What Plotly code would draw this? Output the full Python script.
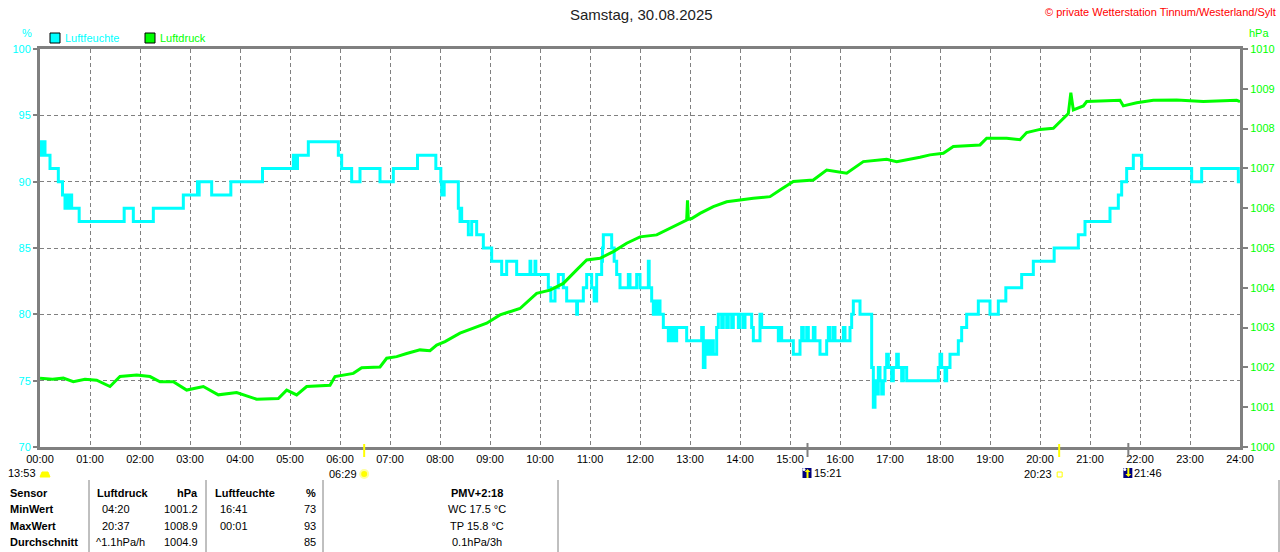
import plotly.graph_objects as go

# Luftfeuchte (%), Stufenwerte: Zeitpunkt der Änderung -> neuer Wert
feuchte_zeit = [
    "00:00", "00:01", "00:03", "00:04", "00:06", "00:12", "00:22", "00:27", "00:30", "00:32",
    "00:34", "00:36", "00:38", "00:47", "01:41", "01:52", "02:16", "02:52", "03:09", "03:10",
    "03:11", "03:26", "03:49", "04:27", "05:04", "05:05", "05:06", "05:07", "05:09", "05:22",
    "05:58", "06:02", "06:14", "06:24", "06:48", "07:04", "07:33", "07:55", "08:01", "08:02",
    "08:03", "08:04", "08:05", "08:22", "08:24", "08:25", "08:26", "08:34", "08:38", "08:44",
    "08:52", "09:02", "09:14", "09:20", "09:32", "09:48", "09:49", "09:54", "09:55", "10:10",
    "10:13", "10:18", "10:22", "10:28", "10:32", "10:44", "10:45", "10:52", "10:56", "11:02",
    "11:05", "11:08", "11:14", "11:15", "11:16", "11:26", "11:29", "11:32", "11:36", "11:46",
    "11:48", "11:56", "12:00", "12:10", "12:11", "12:14", "12:16", "12:18", "12:20", "12:22",
    "12:24", "12:28", "12:34", "12:36", "12:38", "12:40", "12:42", "12:44", "12:48", "12:56",
    "13:14", "13:16", "13:18", "13:20", "13:22", "13:24", "13:26", "13:28", "13:32", "13:34",
    "13:38", "13:40", "13:44", "13:46", "13:50", "13:52", "13:58", "14:00", "14:04", "14:06",
    "14:14", "14:16", "14:24", "14:26", "14:46", "14:48", "14:50", "15:04", "15:12", "15:14",
    "15:16", "15:20", "15:22", "15:28", "15:30", "15:36", "15:44", "15:46", "15:48", "15:52",
    "15:54", "16:04", "16:06", "16:12", "16:14", "16:16", "16:24", "16:38", "16:40", "16:42",
    "16:44", "16:46", "16:48", "16:50", "16:52", "16:54", "16:56", "16:58", "17:02", "17:04",
    "17:08", "17:10", "17:14", "17:16", "17:20", "17:24", "17:58", "18:00", "18:02", "18:06",
    "18:08", "18:12", "18:22", "18:26", "18:32", "18:46", "19:00", "19:10", "19:19", "19:38",
    "19:52", "20:17", "20:46", "20:54", "21:24", "21:34", "21:38", "21:44", "21:52", "22:02",
    "23:02", "23:14", "23:58", "24:00",
]
feuchte_wert = [
    92, 93, 92, 93, 92, 91, 90, 89, 88, 89,
    88, 89, 88, 87, 88, 87, 88, 89, 90, 89,
    90, 89, 90, 91, 92, 91, 92, 91, 92, 93,
    92, 91, 90, 91, 90, 91, 92, 91, 90, 89,
    90, 89, 90, 88, 87, 88, 87, 86, 87, 86,
    85, 84, 83, 84, 83, 84, 83, 84, 83, 82,
    81, 82, 83, 82, 81, 80, 81, 82, 83, 82,
    81, 83, 84, 85, 86, 85, 84, 83, 82, 83,
    82, 83, 82, 84, 82, 81, 80, 81, 80, 81,
    80, 79, 78, 79, 78, 79, 78, 79, 79, 78,
    79, 76, 78, 77, 78, 77, 78, 77, 79, 80,
    79, 80, 79, 80, 79, 80, 79, 80, 79, 80,
    79, 78, 80, 79, 78, 79, 78, 77, 78, 79,
    78, 79, 78, 79, 78, 77, 78, 79, 78, 79,
    78, 79, 78, 79, 80, 81, 80, 76, 73, 75,
    74, 76, 75, 74, 75, 76, 77, 76, 75, 76,
    77, 76, 75, 76, 75, 75, 76, 77, 76, 75,
    76, 77, 78, 79, 80, 81, 80, 81, 82, 83,
    84, 85, 86, 87, 88, 89, 90, 91, 92, 91,
    90, 91, 90, 90,
]

# Luftdruck (hPa)
druck_zeit = [
    "00:00", "00:15", "00:28", "00:40", "00:54", "01:08", "01:24", "01:36", "01:56", "02:12",
    "02:24", "02:40", "02:56", "03:16", "03:34", "03:56", "04:20", "04:46", "04:56", "05:08",
    "05:20", "05:48", "05:54", "06:16", "06:26", "06:48", "06:56", "07:08", "07:20", "07:36",
    "07:48", "07:56", "08:06", "08:24", "08:56", "09:12", "09:36", "09:56", "10:12", "10:28",
    "10:44", "10:56", "11:12", "11:28", "11:44", "12:00", "12:20", "12:40", "12:56", "12:57",
    "12:58", "13:02", "13:12", "13:28", "13:44", "14:16", "14:36", "14:48", "15:04", "15:28",
    "15:36", "15:44", "16:08", "16:28", "16:56", "17:08", "17:36", "17:48", "18:04", "18:16",
    "18:48", "18:56", "19:20", "19:36", "19:44", "20:00", "20:16", "20:28", "20:34", "20:37",
    "20:40", "20:52", "20:56", "21:36", "21:40", "21:56", "22:16", "22:44", "23:16", "23:56",
    "24:00",
]
druck_wert = [
    1001.73, 1001.70, 1001.73, 1001.64, 1001.70, 1001.68, 1001.52, 1001.77, 1001.81, 1001.77,
    1001.64, 1001.64, 1001.43, 1001.52, 1001.31, 1001.37, 1001.20, 1001.22, 1001.43, 1001.31,
    1001.52, 1001.55, 1001.77, 1001.85, 1001.99, 1002.01, 1002.23, 1002.27, 1002.35, 1002.44,
    1002.42, 1002.56, 1002.65, 1002.86, 1003.11, 1003.32, 1003.48, 1003.86, 1003.94, 1004.11,
    1004.45, 1004.70, 1004.74, 1004.91, 1005.12, 1005.28, 1005.33, 1005.54, 1005.70, 1006.20,
    1005.72, 1005.74, 1005.87, 1006.04, 1006.16, 1006.25, 1006.29, 1006.46, 1006.67, 1006.71,
    1006.83, 1006.96, 1006.88, 1007.17, 1007.23, 1007.17, 1007.28, 1007.34, 1007.38, 1007.55,
    1007.59, 1007.76, 1007.76, 1007.72, 1007.90, 1007.98, 1008.01, 1008.25, 1008.38, 1008.90,
    1008.47, 1008.57, 1008.68, 1008.71, 1008.57, 1008.65, 1008.71, 1008.72, 1008.68, 1008.71,
    1008.68,
]

stunden = list(range(25))
stunden_text = ["%02d:00" % h for h in stunden]

sonne = [("06:29", "auf"), ("20:23", "unter")]
mond = [("15:21", "auf"), ("21:46", "unter")]
tageslaenge = "13:53"

tab_zeilen = ["MinWert", "MaxWert", "Durchschnitt"]
druck_zeitpunkt = ["04:20", "20:37", "^1.1hPa/h"]
druck_stat = ["1001.2", "1008.9", "1004.9"]
feuchte_zeitpunkt = ["16:41", "00:01", ""]
feuchte_stat = ["73", "93", "85"]
pmv_kopf = "PMV+2:18"
pmv_text = ["WC 17.5 °C", "TP 15.8 °C", "0.1hPa/3h"]

CYAN = "#00FFFF"
GRUEN = "#00FF00"
GRAU = "#808080"
FONT = "Liberation Sans"

W, H = 1280, 552
L, R, T, B = 40, 40, 49, 105


def std(t):
    h, m = t.split(":")
    return int(h) + int(m) / 60


# Pixel im Bild -> paper-Koordinaten
def px(x):
    return (x - L) / (W - L - R)


def py(y):
    return (H - B - y) / (H - T - B)


def text(x, y, s, color="black", size=11, anchor="left", ref="paper", yanchor="middle"):
    return dict(x=x, y=y, xref=ref, yref="paper", text=s, showarrow=False,
                xanchor=anchor, yanchor=yanchor,
                font=dict(family=FONT, size=size, color=color))


fig = go.Figure()
fig.add_scatter(x=[std(t) for t in druck_zeit], y=druck_wert, yaxis="y2",
                mode="lines", line=dict(color=GRUEN, width=3), name="Luftdruck")
fig.add_scatter(x=[std(t) for t in feuchte_zeit], y=feuchte_wert,
                mode="lines", line=dict(color=CYAN, width=3, shape="hv"), name="Luftfeuchte")

ann = []
shapes = []

# Kopf
ann.append(text(px(641), py(15), "Samstag, 30.08.2025", color="#222222", size=15, anchor="center"))
ann.append(text(px(1278), py(12), "© private Wetterstation Tinnum/Westerland/Sylt",
                color="#FF0000", size=11, anchor="right"))
ann.append(text(px(27), py(33), "%", color=CYAN, anchor="center"))
ann.append(text(px(1259), py(33), "hPa", color=GRUEN, anchor="center"))

# Legende
for x0, farbe, name in [(50, CYAN, "Luftfeuchte"), (145, GRUEN, "Luftdruck")]:
    shapes.append(dict(type="rect", xref="paper", yref="paper",
                       x0=px(x0), x1=px(x0 + 10), y0=py(43), y1=py(33),
                       fillcolor=farbe, line=dict(color="black", width=1)))
    ann.append(text(px(x0 + 13), py(38), name, color=farbe))

# Sonne / Mond unter der Zeitachse
ann.append(text(px(38), py(473), tageslaenge, anchor="right"))
shapes.append(dict(type="path", xref="paper", yref="paper",
                   path="M %f,%f L %f,%f L %f,%f L %f,%f Z" % (
                       px(40), py(477), px(42), py(472), px(48), py(472), px(50), py(477)),
                   fillcolor="#FFFF00", line=dict(color="#FFFF00", width=1)))

for t, art in sonne:
    x = std(t)
    shapes.append(dict(type="line", xref="x", yref="paper", x0=x, x1=x,
                       y0=py(457), y1=py(444), line=dict(color="#FFFF00", width=2)))
    if art == "auf":
        shapes.append(dict(type="circle", xref="x", yref="paper", xsizemode="pixel",
                           ysizemode="pixel", xanchor=x, yanchor=py(474),
                           x0=-4, x1=4, y0=-4, y1=4, fillcolor="#FFFF00",
                           line=dict(color="#FFFFA0", width=2)))
    else:
        shapes.append(dict(type="rect", xref="x", yref="paper", xsizemode="pixel",
                           ysizemode="pixel", xanchor=x, yanchor=py(474),
                           x0=-2, x1=3, y0=-3, y1=2, fillcolor="white",
                           line=dict(color="#FFFF00", width=1)))
    ann.append(dict(text(x, py(474), t, anchor="right", ref="x"), xshift=-5))

for t, art in mond:
    x = std(t)
    shapes.append(dict(type="line", xref="x", yref="paper", x0=x, x1=x,
                       y0=py(457), y1=py(443), line=dict(color=GRAU, width=2)))
    shapes.append(dict(type="rect", xref="x", yref="paper", xsizemode="pixel",
                       ysizemode="pixel", xanchor=x, yanchor=py(473),
                       x0=-5, x1=4, y0=-5, y1=5, fillcolor="#000080", line=dict(width=0)))
    shapes.append(dict(type="circle", xref="x", yref="paper", xsizemode="pixel",
                       ysizemode="pixel", xanchor=x, yanchor=py(473),
                       x0=-5, x1=-2, y0=2, y1=5, fillcolor="white", line=dict(width=0)))
    if art == "auf":
        pfeil = "M -3,1 L 0,4 L 3,1 Z M -1,1 L 1,1 L 1,-5 L -1,-5 Z"
    else:
        pfeil = "M -3,-1 L 0,-4 L 3,-1 Z M -1,-1 L 1,-1 L 1,5 L -1,5 Z"
    shapes.append(dict(type="path", xref="x", yref="paper", xsizemode="pixel",
                       ysizemode="pixel", xanchor=x, yanchor=py(473),
                       path=pfeil, fillcolor="#FFFF00", line=dict(width=0)))
    ann.append(dict(text(x, py(473), t, anchor="left", ref="x"), xshift=4))

# Tabelle
for xl in [89, 206, 323, 558, 1279]:
    shapes.append(dict(type="line", xref="paper", yref="paper", x0=px(xl), x1=px(xl),
                       y0=py(480), y1=py(552), line=dict(color=GRAU, width=1)))

ann.append(text(px(8), py(493), "<b>Sensor</b>"))
ann.append(text(px(95), py(493), "<b>Luftdruck</b>"))
ann.append(text(px(200), py(493), "<b>hPa</b>", anchor="right"))
ann.append(text(px(213), py(493), "<b>Luftfeuchte</b>"))
ann.append(text(px(318), py(493), "<b>%</b>", anchor="right"))
ann.append(text(px(477), py(493), "<b>" + pmv_kopf + "</b>", anchor="center"))

for i, yy in enumerate([509, 526, 542]):
    ann.append(text(px(8), py(yy), "<b>" + tab_zeilen[i] + "</b>"))
    xz = 94 if druck_zeitpunkt[i].startswith("^") else 100
    ann.append(text(px(xz), py(yy), druck_zeitpunkt[i]))
    ann.append(text(px(200), py(yy), druck_stat[i], anchor="right"))
    if feuchte_zeitpunkt[i]:
        ann.append(text(px(218), py(yy), feuchte_zeitpunkt[i]))
    ann.append(text(px(318), py(yy), feuchte_stat[i], anchor="right"))
    ann.append(text(px(477), py(yy), pmv_text[i], anchor="center"))

fig.update_layout(
    width=W, height=H,
    margin=dict(l=L, r=R, t=T, b=B, autoexpand=False),
    paper_bgcolor="white", plot_bgcolor="white",
    showlegend=False,
    font=dict(family=FONT, size=11, color="black"),
    xaxis=dict(range=[0, 24], tickvals=stunden, ticktext=stunden_text, automargin=False,
               showgrid=True, gridcolor=GRAU, griddash="4px,3px", gridwidth=1,
               showline=True, linecolor=GRAU, linewidth=3, mirror=True,
               ticks="", zeroline=False, tickfont=dict(color="black", size=11)),
    yaxis=dict(range=[70, 100], dtick=5, showgrid=True, gridcolor=GRAU, automargin=False,
               griddash="4px,3px", gridwidth=1, showline=True, linecolor=GRAU,
               linewidth=3, ticks="outside", ticklen=4, tickcolor=GRAU, tickwidth=2,
               zeroline=False, tickfont=dict(color=CYAN, size=11)),
    yaxis2=dict(range=[1000, 1010], dtick=1, overlaying="y", side="right", automargin=False,
                showgrid=False, showline=True, linecolor=GRAU, linewidth=3,
                ticks="outside", ticklen=5, tickcolor=GRAU, tickwidth=2,
                zeroline=False, tickfont=dict(color=GRUEN, size=11)),
    annotations=ann,
    shapes=shapes,
)

# ohne Seitenrand, damit die Figur genau ins Fenster passt
fig.write_html("out.html", config={"displayModeBar": False},
               post_script="document.body.style.margin='0';document.body.style.overflow='hidden';")
